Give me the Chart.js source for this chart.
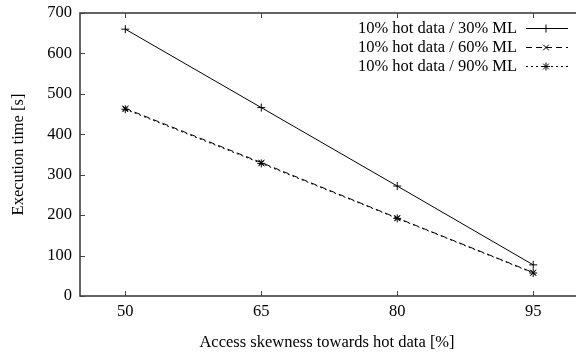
<!DOCTYPE html>
<html>
<head>
<meta charset="utf-8">
<script src="https://cdn.jsdelivr.net/npm/chart.js@4"></script>
<style>
  html, body { margin: 0; padding: 0; background: #fff; }
  #wrap { width: 579px; height: 353px; }
</style>
</head>
<body>
<div id="wrap"><canvas id="chart" width="579" height="353"></canvas></div>
<script>
//Chart data
const skewness = [50, 65, 80, 95];
const ml30 = [660, 466, 272, 77];
const ml60 = [464, 330, 193, 58];
const ml90 = [462, 328, 192, 57];
const seriesLabels = ["10% hot data / 30% ML", "10% hot data / 60% ML", "10% hot data / 90% ML"];
const yTicks = [0, 100, 200, 300, 400, 500, 600, 700];

const font = 'Liberation Serif';
const fontSize = 16.5;

function toPoints(arr) {
    return skewness.map(function(x, i) { return { x: x, y: arr[i] }; });
}

//Draws the frame, inward ticks and the gnuplot style legend
const framePlugin = {
    id: 'frame',
    afterDraw(chart) {
        const ctx = chart.ctx;
        const a = chart.chartArea;
        const xs = chart.scales.x;
        const ys = chart.scales.y;
        ctx.save();
        ctx.strokeStyle = '#333';
        ctx.lineWidth = 1.5;
        ctx.beginPath();
        ctx.moveTo(a.right + 2, a.top);
        ctx.lineTo(a.left, a.top);
        ctx.lineTo(a.left, a.bottom);
        ctx.lineTo(a.right + 2, a.bottom);
        ctx.stroke();
        ctx.lineWidth = 1;
        ctx.strokeStyle = '#444';
        ctx.beginPath();
        yTicks.forEach(function(v) {
            const y = Math.round(ys.getPixelForValue(v)) + 0.5;
            ctx.moveTo(a.left, y); ctx.lineTo(a.left + 5, y);
        });
        skewness.forEach(function(v) {
            const x = Math.round(xs.getPixelForValue(v)) + 0.5;
            ctx.moveTo(x, a.bottom); ctx.lineTo(x, a.bottom - 5);
            ctx.moveTo(x, a.top); ctx.lineTo(x, a.top + 5);
        });
        ctx.stroke();

        //legend
        ctx.font = fontSize + 'px ' + font;
        ctx.fillStyle = '#000';
        ctx.textAlign = 'right';
        ctx.textBaseline = 'middle';
        chart.data.datasets.forEach(function(ds, i) {
            const y = 28 + i * 19;
            ctx.fillText(ds.label, 517, y + 1);
            ctx.strokeStyle = '#000';
            ctx.lineWidth = 1;
            ctx.setLineDash(ds.borderDash || []);
            ctx.beginPath();
            ctx.moveTo(526, y + 0.5); ctx.lineTo(568, y + 0.5);
            ctx.stroke();
            ctx.setLineDash([]);
            Chart.helpers.drawPoint(ctx, {
                pointStyle: ds.pointStyle, radius: 4, rotation: 0, borderWidth: 1
            }, 546, y + 0.5);
        });
        ctx.restore();
    }
};

new Chart(
    document.getElementById('chart'),
    {
        type: 'line',
        data: {
            datasets: [{
                label: seriesLabels[0],
                data: toPoints(ml30),
                borderColor: '#000',
                backgroundColor: '#000',
                borderWidth: 1,
                pointStyle: 'cross',
                pointRadius: 4,
                pointBorderWidth: 1,
            }, {
                label: seriesLabels[1],
                data: toPoints(ml60),
                borderColor: '#000',
                backgroundColor: '#000',
                borderWidth: 1,
                borderDash: [6, 4],
                pointStyle: 'crossRot',
                pointRadius: 4,
                pointBorderWidth: 1,
            }, {
                label: seriesLabels[2],
                data: toPoints(ml90),
                borderColor: '#000',
                backgroundColor: '#000',
                borderWidth: 1,
                borderDash: [2, 3],
                pointStyle: 'star',
                pointRadius: 4,
                pointBorderWidth: 1,
            }]
        },
        options: {
            responsive: false,
            animation: false,
            events: [],
            layout: { padding: { top: 13, right: 1, left: 0, bottom: 0 } },
            elements: { line: { tension: 0 } },
            scales: {
                x: {
                    type: 'linear',
                    min: 45,
                    max: 99.5,
                    afterBuildTicks(scale) {
                        scale.ticks = skewness.map(function(v) { return { value: v }; });
                    },
                    afterFit(scale) {
                        scale.height = 57;
                        scale.paddingLeft = 0;
                        scale.paddingRight = 0;
                    },
                    grid: { display: false, drawTicks: false },
                    border: { display: false },
                    ticks: {
                        color: '#000',
                        font: { family: font, size: fontSize },
                        padding: 6,
                        maxRotation: 0,
                    },
                    title: {
                        display: true,
                        text: 'Access skewness towards hot data [%]',
                        color: '#000',
                        font: { family: font, size: fontSize },
                        padding: { top: 0, bottom: 0 },
                    },
                },
                y: {
                    min: 0,
                    max: 700,
                    afterFit(scale) {
                        scale.width = 80;
                        scale.paddingTop = 0;
                        scale.paddingBottom = 0;
                    },
                    grid: { display: false, drawTicks: false },
                    border: { display: false },
                    ticks: {
                        stepSize: 100,
                        color: '#000',
                        font: { family: font, size: fontSize },
                        padding: 8,
                    },
                    title: {
                        display: true,
                        text: 'Execution time [s]',
                        color: '#000',
                        font: { family: font, size: fontSize },
                        padding: { top: 9, bottom: 0 },
                    },
                },
            },
            plugins: {
                legend: { display: false },
                tooltip: { enabled: false },
            },
        },
        plugins: [framePlugin]
    }
);
</script>
</body>
</html>
